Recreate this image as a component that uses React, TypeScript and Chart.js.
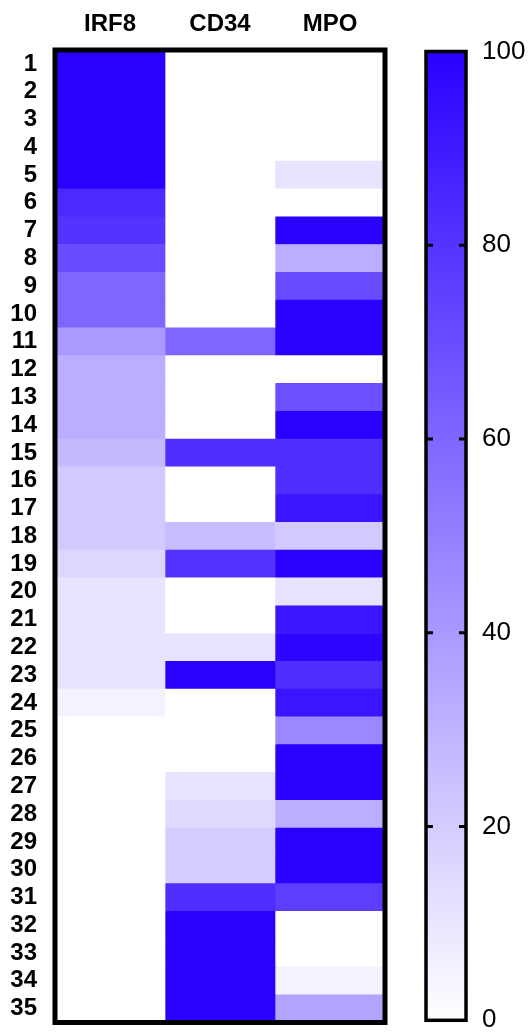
import React, { useEffect, useRef } from "react";
import { Chart, registerables } from "chart.js";

Chart.register(...registerables);

const rowLabels = ["1","2","3","4","5","6","7","8","9","10","11","12","13","14","15","16","17","18","19","20","21","22","23","24","25","26","27","28","29","30","31","32","33","34","35"];
const columnLabels = ["IRF8", "CD34", "MPO"];
const irf8 = [100,100,100,100,100,84,80,71,60,60,40,32,32,32,27,21,21,21,16,11,11,11,11,5,0,0,0,0,0,0,0,0,0,0,0];
const cd34 = [0,0,0,0,0,0,0,0,0,0,60,0,0,0,82,0,0,26,80,0,0,11,100,0,0,0,11,15,20,20,82,100,100,100,100];
const mpo = [0,0,0,0,11,0,100,32,71,100,100,0,69,100,82,82,92,21,100,11,92,98,82,92,47,100,100,32,100,100,76,0,0,5,36];
const columnValues = [irf8, cd34, mpo];
const scaleMin = 0;
const scaleMax = 100;
const scaleTicks = [0, 20, 40, 60, 80, 100];

const FONT = "'Liberation Sans', Arial, Helvetica, sans-serif";
const MAXC = [43, 0, 255];

function colorFor(v: number): string {
  const t = Math.max(0, Math.min(1, (v - scaleMin) / (scaleMax - scaleMin)));
  const r = Math.round(255 + (MAXC[0] - 255) * t);
  const g = Math.round(255 + (MAXC[1] - 255) * t);
  const b = Math.round(255 + (MAXC[2] - 255) * t);
  return `rgb(${r},${g},${b})`;
}

const frameHeat = {
  id: "frameHeat",
  afterDatasetsDraw(chart: any) {
    const { ctx, chartArea } = chart;
    ctx.save();
    ctx.strokeStyle = "#000";
    ctx.lineWidth = 5;
    ctx.strokeRect(chartArea.left, chartArea.top, chartArea.right - chartArea.left, chartArea.bottom - chartArea.top);
    ctx.restore();
  },
};

const frameBar = {
  id: "frameBar",
  afterDatasetsDraw(chart: any) {
    const { ctx, chartArea } = chart;
    const y = chart.scales.y;
    ctx.save();
    ctx.strokeStyle = "#000";
    ctx.lineWidth = 3;
    for (const v of scaleTicks) {
      if (v === scaleMin || v === scaleMax) continue;
      const py = y.getPixelForValue(v);
      ctx.beginPath();
      ctx.moveTo(chartArea.left, py);
      ctx.lineTo(chartArea.left + 7, py);
      ctx.moveTo(chartArea.right, py);
      ctx.lineTo(chartArea.right - 7, py);
      ctx.stroke();
    }
    ctx.lineWidth = 3.5;
    ctx.strokeRect(chartArea.left, chartArea.top, chartArea.right - chartArea.left, chartArea.bottom - chartArea.top);
    ctx.restore();
  },
};

export default function App() {
  const heatRef = useRef<HTMLCanvasElement>(null);
  const barRef = useRef<HTMLCanvasElement>(null);

  useEffect(() => {
    const datasets = columnValues.map((vals, c) => ({
      label: columnLabels[c],
      data: vals.map(() => [c, c + 1]),
      backgroundColor: vals.map((v) => colorFor(v)),
      borderWidth: 0,
      borderSkipped: false,
      barPercentage: 1,
      categoryPercentage: 1,
      grouped: false,
    }));
    const heat = new Chart(heatRef.current!, {
      type: "bar",
      data: { labels: rowLabels, datasets: datasets as any },
      options: {
        indexAxis: "y",
        animation: false,
        responsive: false,
        layout: { padding: { left: 0, top: 0, right: 15, bottom: 11.5 } },
        plugins: { legend: { display: false }, tooltip: { enabled: false } },
        scales: {
          x: { type: "linear", min: 0, max: 3, display: false },
          x2: {
            type: "category",
            labels: columnLabels,
            position: "top",
            offset: true,
            grid: { display: false, drawTicks: false },
            border: { display: false },
            ticks: { color: "#000", padding: 11, font: { family: FONT, size: 24, weight: "bold" } },
            afterFit: (s: any) => { s.height = 50; s.paddingLeft = 0; s.paddingRight = 0; },
          },
          y: {
            type: "category",
            position: "left",
            offset: true,
            grid: { display: false, drawTicks: false },
            border: { display: false },
            ticks: { color: "#000", padding: 18, autoSkip: false, font: { family: FONT, size: 24, weight: "bold" } },
            afterFit: (s: any) => { s.width = 55; s.paddingTop = 0; s.paddingBottom = 0; },
          },
        },
      } as any,
      plugins: [frameHeat],
    });

    const bar = new Chart(barRef.current!, {
      type: "bar",
      data: {
        labels: ["scale"],
        datasets: [
          {
            data: [[scaleMin, scaleMax]],
            backgroundColor: (ctx: any) => {
              const { chart } = ctx;
              const area = chart.chartArea;
              if (!area) return colorFor(50);
              const y = chart.scales.y;
              const g = chart.ctx.createLinearGradient(0, y.getPixelForValue(scaleMin), 0, y.getPixelForValue(scaleMax));
              g.addColorStop(0, colorFor(scaleMin));
              g.addColorStop(1, colorFor(scaleMax));
              return g;
            },
            borderWidth: 0,
            borderSkipped: false,
            barPercentage: 1,
            categoryPercentage: 1,
          } as any,
        ],
      },
      options: {
        animation: false,
        responsive: false,
        layout: { padding: { left: 26, top: 51.5, right: 0, bottom: 13.7 } },
        plugins: { legend: { display: false }, tooltip: { enabled: false } },
        scales: {
          x: { type: "category", display: false },
          y: {
            type: "linear",
            position: "right",
            min: scaleMin,
            max: scaleMax,
            afterBuildTicks: (s: any) => { s.ticks = scaleTicks.map((v) => ({ value: v })); },
            grid: { display: false, drawTicks: false },
            border: { display: false },
            ticks: { color: "#000", padding: 16, font: { family: FONT, size: 26 } },
            afterFit: (s: any) => { s.width = 63; s.paddingTop = 0; s.paddingBottom = 0; },
          },
        },
      } as any,
      plugins: [frameBar],
    });

    return () => {
      heat.destroy();
      bar.destroy();
    };
  }, []);

  return (
    <div style={{ position: "absolute", left: 0, top: 0, width: 529, height: 1034, background: "#fff", overflow: "hidden" }}>
      <canvas ref={heatRef} width={400} height={1034} style={{ position: "absolute", left: 0, top: 0 }} />
      <canvas ref={barRef} width={129} height={1034} style={{ position: "absolute", left: 400, top: 0 }} />
    </div>
  );
}
